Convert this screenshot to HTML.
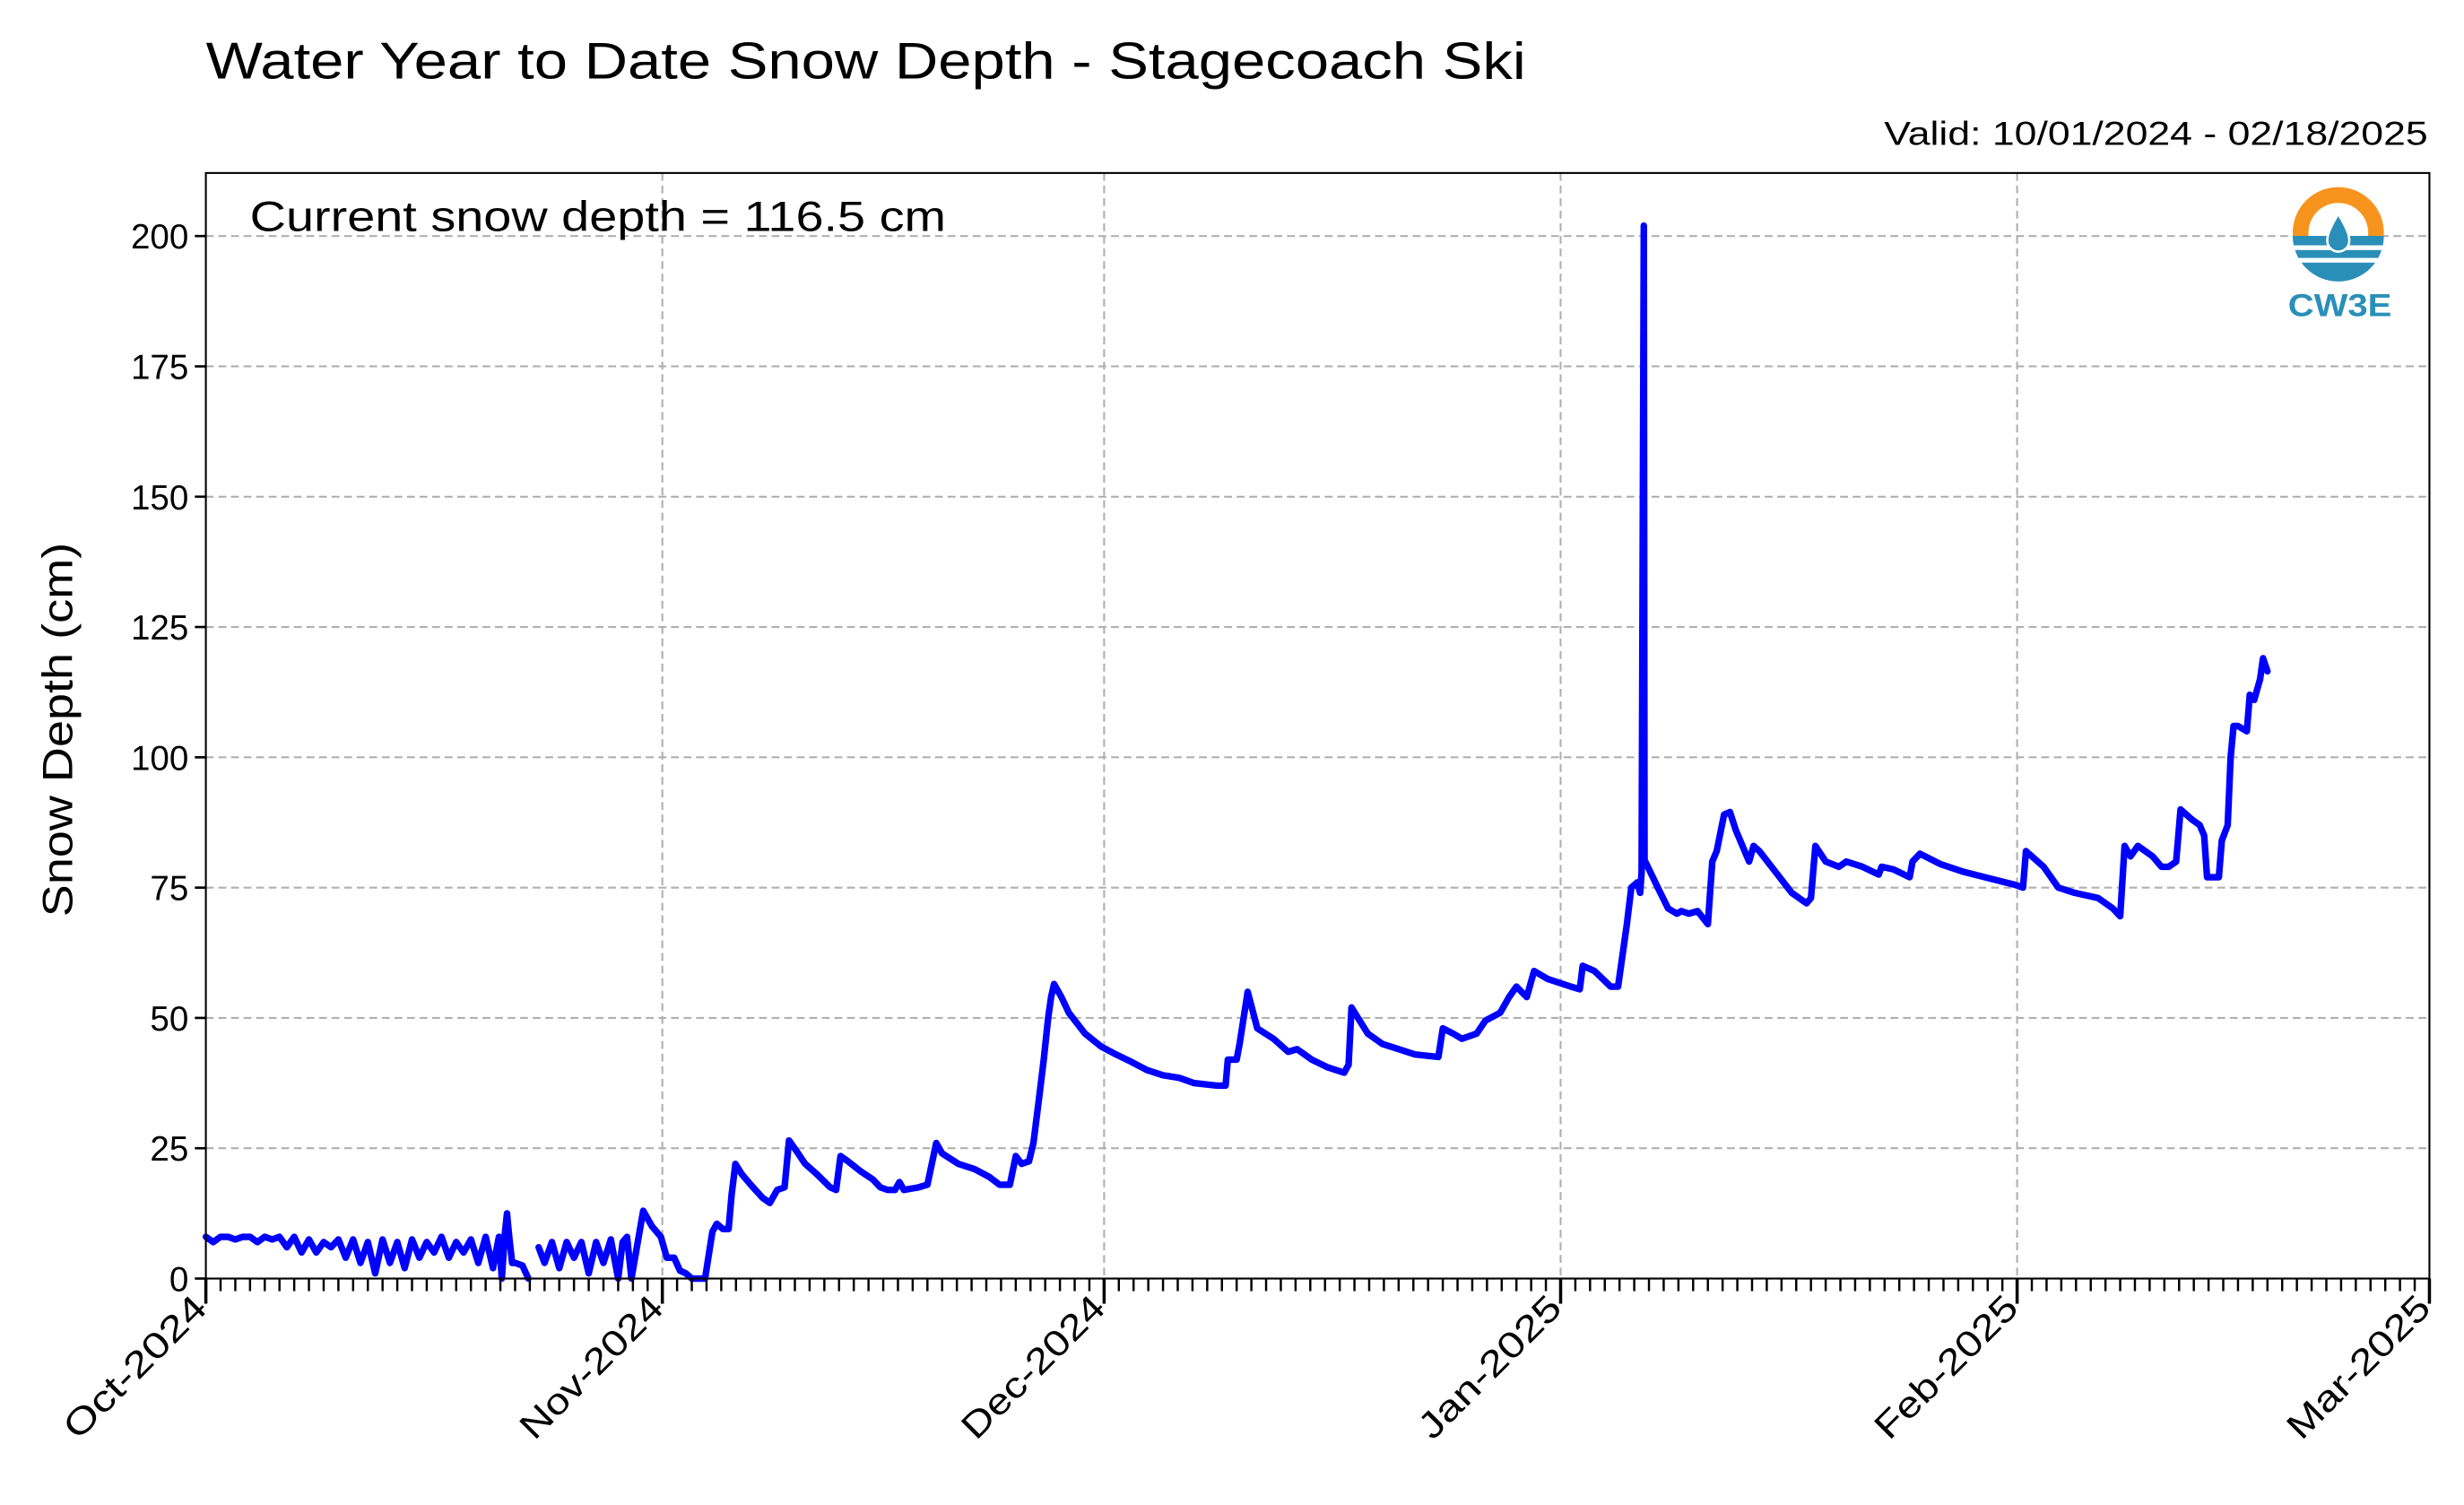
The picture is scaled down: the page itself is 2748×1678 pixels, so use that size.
<!DOCTYPE html>
<html><head><meta charset="utf-8"><style>
html,body{margin:0;padding:0;background:#fff}
svg{display:block}
text{font-family:"Liberation Sans",Arial,sans-serif;fill:#000}
</style></head><body>
<svg id="chart" width="2748" height="1678" viewBox="0 0 1568 957" preserveAspectRatio="none" xmlns="http://www.w3.org/2000/svg">
<text x="131" y="50" font-size="33" textLength="840" lengthAdjust="spacingAndGlyphs">Water Year to Date Snow Depth - Stagecoach Ski</text>
<text x="1199" y="92" font-size="21" textLength="346" lengthAdjust="spacingAndGlyphs">Valid: 10/01/2024 - 02/18/2025</text>
<g id="grid"></g>
<g id="series"></g>
<rect x="131" y="110" width="1415" height="703" fill="none" stroke="#000" stroke-width="1.2"/>
<g id="axes"></g>
<text x="159" y="147" font-size="27" textLength="443" lengthAdjust="spacingAndGlyphs">Current snow depth = 116.5 cm</text>
<text transform="translate(46,464) rotate(-90)" font-size="27" text-anchor="middle" textLength="238" lengthAdjust="spacingAndGlyphs">Snow Depth (cm)</text>
<g>
<circle cx="1488" cy="148" r="29" fill="#f7941d"/>
<circle cx="1488" cy="148" r="19" fill="#fff"/>
<path d="M1459 150 A29 29 0 0 0 1517 150 Z" fill="#2a8fb8"/>
<rect x="1459" y="156" width="58" height="3" fill="#fff"/>
<rect x="1459" y="164" width="58" height="3" fill="#fff"/>
<path d="M1488 136 C1482 146 1481 150 1481 153 A7 7 0 0 0 1495 153 C1495 150 1494 146 1488 136 Z" fill="#2a8fb8" stroke="#fff" stroke-width="1.5"/>
<text x="1456" y="201" font-size="20" font-weight="bold" textLength="66" lengthAdjust="spacingAndGlyphs" style="fill:#2a8fb8">CW3E</text>
</g>
</svg>
<script>
// data: day offset from 2024-10-01, snow depth in cm (null = gap)
const days = [0,0.5,1,1.5,2,2.5,3,3.5,4,4.5,5,5.5,6,6.5,7,7.5,8,8.5,9,9.5,10,10.5,11,11.5,12,12.5,13,13.5,14,14.5,15,15.5,16,16.5,17,17.5,18,18.5,19,19.5,19.9,20.1,20.3,20.45,20.6,20.8,21.0,21.5,21.9,22.0,22.6,23,23.5,24,24.5,25,25.5,26,26.5,27,27.5,28,28.3,28.6,28.9,29.7,30.3,30.9,31.3,31.8,32.2,32.6,33.0,33.9,34.4,34.7,35.1,35.5,35.7,35.96,36.4,37.0,37.8,38.3,38.8,39.3,39.6,40.1,40.7,41.5,42.4,42.8,43.1,43.6,44.5,45.3,45.8,46.3,46.8,47.1,47.4,48.4,49.0,49.3,49.6,50.0,51.1,52.2,53.2,53.9,54.6,55.0,55.4,55.9,56.2,56.6,56.9,57.2,57.4,57.6,58.1,58.6,59.7,60.8,61.8,62.9,63.9,65.0,66.1,67.1,68.7,69.25,69.4,70.0,70.2,70.75,71.4,72.5,73.5,74.1,75.1,76.2,77.3,77.6,77.8,78.9,79.9,81.0,82.1,83.7,84.0,84.7,85.3,86.3,86.9,87.9,88.5,89.0,89.7,90.2,91.1,92.7,93.3,93.5,94.3,95.4,95.9,96.5,96.8,97.2,97.4,97.5,97.65,97.7,97.75,98.6,99.3,99.9,100.2,100.7,101.3,102.0,102.3,102.6,103.1,103.5,103.9,104.5,104.8,105.1,105.5,106.6,107.7,108.7,109.0,109.3,110.0,110.9,111.4,112.5,113.6,113.8,114.6,115.7,115.9,116.4,117.8,119.4,121.5,122.9,123.4,123.6,124.8,125.3,125.8,126.9,128.5,129.5,130.0,130.3,130.7,131.2,132.2,132.8,133.3,133.8,134.1,134.9,135.4,135.7,135.9,136.7,136.9,137.3,137.5,137.7,138.0,138.6,138.8,139.1,139.5,139.7,140.0];
const depths = [8,7,8,8,7.5,8,8,7,8,7.5,8,6,8,5,7.5,5,7,6,7.5,4,7.5,3,7,1,7.5,3,7,2,7.5,4,7,5,8,4,7,5,7.5,3,8,2,8,0,8.5,12.5,8,3,3,2.5,0,null,6,3,7,2,7,4,7,1,7,3,7.5,0,7,8,0,13,10,8,4,4,1.5,1,0,0,9,10.5,9.5,9.5,16,22,20,18,15.5,14.5,17,17.5,26.5,24.5,22,20,17.5,17,23.5,22.5,20.5,19,17.5,17,17,18.5,17,17.5,18,22,26,24,22,21,19.5,18,18,23.5,22,22.5,26,35,42,50,54,56.5,54,51,47,44.5,43,41.5,40,39,38.5,37.5,37,37,42,42,45,55,48,46,43.5,44,42,40.5,39.5,41,52,47,45,44,43,42.5,48,47,46,47,49.5,51,54,56,54,59,57.5,56,55.5,60,59,56,56,68,75,76,74,78,202,80,80,75,71,70,70.5,70,70.5,68,80,82,89,89.5,86,82,80,83,82,78,74,72,73,83,80,79,80,79,77.5,79,78.5,77,80,81.5,79.5,78,76.5,75.5,75,82,79,77,75,74,73,71,69.5,83,81,83,81,79,79,80,90,88,87,85,77,77,84,87,100,106,106,105,112,111,115,119,116.5];
const yTicks = [0,25,50,75,100,125,150,175,200];
const monthLabels = ["Oct-2024","Nov-2024","Dec-2024","Jan-2025","Feb-2025","Mar-2025"];
const monthDays = [0,31,61,92,123,151];

const NS="http://www.w3.org/2000/svg";
const X0=131,X1=1546,Y0=813,Y1=110,DMAX=151,VMAX=212.1;
function xs(d){return X0+(X1-X0)*d/DMAX;}
function ys(v){return Y0-(Y0-Y1)*v/VMAX;}
function mk(tag,attrs,parent){const e=document.createElementNS(NS,tag);for(const k in attrs)e.setAttribute(k,attrs[k]);parent.appendChild(e);return e;}
const grid=document.getElementById('grid'),axes=document.getElementById('axes'),series=document.getElementById('series');
yTicks.forEach(v=>{
  const g=mk('line',{x1:X0,x2:X1,y1:ys(v),y2:ys(v),stroke:'#b0b0b0','stroke-width':1.2,'stroke-dasharray':'5,3'},grid);
  
  
  const t=mk('line',{x1:X0-7,x2:X0,y1:ys(v),y2:ys(v),stroke:'#000','stroke-width':1.5},axes);
  
  
  const l=mk('text',{x:X0-11,y:ys(v)+8,'font-size':22,'text-anchor':'end'},axes);
  l.textContent=v;
  
  
});
monthDays.forEach((d,i)=>{
  const x=xs(d);
  if(i>0&&i<monthDays.length-1){
    const g=mk('line',{x1:x,x2:x,y1:Y1,y2:Y0,stroke:'#b0b0b0','stroke-width':1.2,'stroke-dasharray':'5,3'},grid);
    
    
  }
  const t=mk('line',{x1:x,x2:x,y1:Y0,y2:Y0+16,stroke:'#000','stroke-width':2},axes);
  
  
  const l=mk('text',{x:0,y:0,'font-size':23,'text-anchor':'end',textLength:118,lengthAdjust:'spacingAndGlyphs',transform:`translate(${x+2},${Y0+20}) rotate(-45)`},axes);
  l.textContent=monthLabels[i];
  
  
});
for(let d=1;d<DMAX;d++){
  if(monthDays.includes(d))continue;
  const t=mk('line',{x1:xs(d),x2:xs(d),y1:Y0,y2:Y0+8,stroke:'#000','stroke-width':1.4},axes);
  
  
}
let dstr='',pen=false;
for(let i=0;i<days.length;i++){
  if(depths[i]===null){pen=false;continue;}
  dstr+=(pen?'L':'M')+xs(days[i]).toFixed(2)+' '+ys(depths[i]).toFixed(2)+' ';
  pen=true;
}
const p=mk('path',{d:dstr,fill:'none',stroke:'#0000ff','stroke-width':4.2,'stroke-linejoin':'round','stroke-linecap':'round'},series);


</script>
</body></html>
